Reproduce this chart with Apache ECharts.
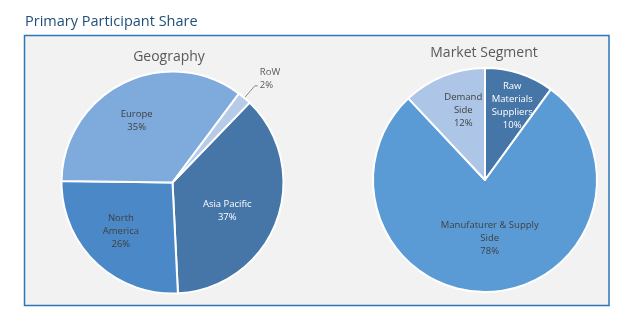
<!DOCTYPE html>
<html><head><meta charset="utf-8">
<script src="https://cdn.jsdelivr.net/npm/echarts@6/dist/echarts.min.js"></script>
<style>html,body{margin:0;padding:0;background:#fff}#c{width:630px;height:330px}</style>
</head><body><div id="c"></div>
<script>
// ---- data ----
const geoCategories = ['Asia Pacific', 'North America', 'Europe', 'RoW'];
const geoValues = [37, 26, 35, 2];
const geoLabelText = ['Asia Pacific', 'North\nAmerica', 'Europe', 'RoW'];

const segCategories = ['Raw Materials Suppliers', 'Manufaturer & Supply Side', 'Demand Side'];
const segValues = [10, 78, 12];
const segLabelText = ['Raw\nMaterials\nSuppliers', 'Manufaturer & Supply\nSide', 'Demand\nSide'];

// ---- styles ----
const geoColors = ['#4676a8', '#4b88c7', '#7eaadc', '#b6cbe8'];
const geoLabelColors = ['#ffffff', '#404040', '#404040', '#595959'];
const geoOffsets = [[0, 8], [-11, 7], [-10, -9], null];

const segColors = ['#4676a8', '#5b9bd5', '#adc6e7'];
const segLabelColors = ['#ffffff', '#404040', '#404040'];
const segOffsets = [[9, -18], [1, -1], [0, -15]];

const FONT = 'Open Sans';

function labelFmt(texts) {
  return p => texts[p.dataIndex] + '\n' + p.value + '%';
}

function buildData(cats, vals, texts, colors, lcolors, outsideIdx) {
  return cats.map((c, i) => {
    const item = {
      name: c, value: vals[i],
      itemStyle: { color: colors[i] },
      label: { color: lcolors[i] }
    };
    if (i === outsideIdx) {
      item.label.position = 'outside';
      item.label.distanceToLabelLine = 2;
      // extra blank line so the leader line meets the percentage line
      item.label.formatter = p => texts[p.dataIndex] + '\n' + p.value + '%\n ';
      item.labelLine = { show: true, length: 16, length2: 3, lineStyle: { color: '#8c8c8c', width: 1 } };
    }
    return item;
  });
}

const chart = echarts.init(document.getElementById('c'), null, { renderer: 'canvas' });

const baseLabel = {
  show: true, position: 'inside', fontFamily: FONT, fontSize: 9.5, lineHeight: 13, align: 'center'
};

function layoutFn(offsets) {
  return p => offsets[p.dataIndex]
    ? { dx: offsets[p.dataIndex][0], dy: offsets[p.dataIndex][1], align: 'center' }
    : {};
}

chart.setOption({
  animation: false,
  backgroundColor: '#ffffff',
  graphic: [{
    type: 'rect', z: -10,
    shape: { x: 24.5, y: 35.5, width: 584.5, height: 270 },
    style: { fill: '#f2f2f2', stroke: '#2e75b6', lineWidth: 1.5 }
  }],
  title: [
    { text: 'Primary Participant Share', left: 25, top: 14, padding: 0,
      textStyle: { fontFamily: FONT, fontSize: 14.5, fontWeight: 'normal', color: '#1f4e79' } },
    { text: 'Geography', left: 169, top: 50, padding: 0, textAlign: 'center',
      textStyle: { fontFamily: FONT, fontSize: 14, fontWeight: 'normal', color: '#595959' } },
    { text: 'Market Segment', left: 484, top: 46, padding: 0, textAlign: 'center',
      textStyle: { fontFamily: FONT, fontSize: 14, fontWeight: 'normal', color: '#595959' } }
  ],
  series: [
    {
      type: 'pie', center: [172.5, 182.5], radius: 111, startAngle: 46, clockwise: true,
      avoidLabelOverlap: false,
      itemStyle: { borderColor: '#ffffff', borderWidth: 2 },
      label: Object.assign({}, baseLabel, { formatter: labelFmt(geoLabelText) }),
      labelLine: { show: false },
      emphasis: { disabled: true },
      labelLayout: layoutFn(geoOffsets),
      data: buildData(geoCategories, geoValues, geoLabelText, geoColors, geoLabelColors, 3)
    },
    {
      type: 'pie', center: [485, 180], radius: 112, startAngle: 90, clockwise: true,
      avoidLabelOverlap: false,
      itemStyle: { borderColor: '#ffffff', borderWidth: 2 },
      label: Object.assign({}, baseLabel, { formatter: labelFmt(segLabelText) }),
      labelLine: { show: false },
      emphasis: { disabled: true },
      labelLayout: layoutFn(segOffsets),
      data: buildData(segCategories, segValues, segLabelText, segColors, segLabelColors, -1)
    }
  ]
});
</script>
</body></html>
